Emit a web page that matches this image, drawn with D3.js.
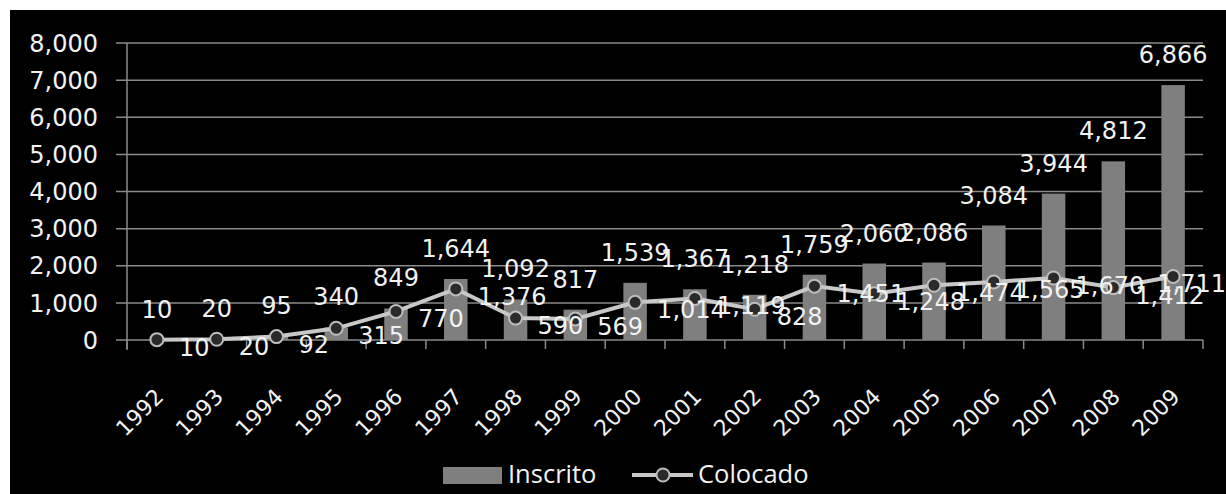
<!DOCTYPE html>
<html>
<head>
<meta charset="utf-8">
<script src="https://cdn.jsdelivr.net/npm/d3@7"></script>
<style>
  html, body { margin: 0; padding: 0; background: #fff; }
  svg { display: block; }
</style>
</head>
<body>
<svg id="chart" width="1226" height="494"></svg>
<script>
const years = ["1992","1993","1994","1995","1996","1997","1998","1999","2000","2001","2002","2003","2004","2005","2006","2007","2008","2009"];
const inscrito = [10,20,95,340,849,1644,1092,817,1539,1367,1218,1759,2060,2086,3084,3944,4812,6866];
const colocado = [10,20,92,315,770,1376,590,569,1014,1119,828,1451,1248,1474,1565,1670,1412,1711];
const yTicks = [0,1000,2000,3000,4000,5000,6000,7000,8000];
const seriesNames = ["Inscrito","Colocado"];

const W = 1226, H = 494;
const svg = d3.select("#chart");
const numFont = "'DejaVu Sans', sans-serif";
const legFont = "'Open Sans', Lato, sans-serif";
const txt = "#f2f2f2";

svg.append("rect").attr("x", 10).attr("y", 10).attr("width", W - 10).attr("height", H - 10).attr("fill", "#000");

const x = d3.scaleBand().domain(years).range([127, 1203]).paddingInner(0).paddingOuter(0);
const y = d3.scaleLinear().domain([0, 8000]).range([340, 43]);
const fmt = d3.format(",");

// gridlines
svg.append("g").selectAll("line").data(yTicks).join("line")
  .attr("x1", 116).attr("x2", 1203)
  .attr("y1", d => y(d)).attr("y2", d => y(d))
  .attr("stroke", "#8a8a8a").attr("stroke-width", 1.5);

// y axis line
svg.append("line").attr("x1", 127).attr("x2", 127).attr("y1", y(8000)).attr("y2", 350)
  .attr("stroke", "#8a8a8a").attr("stroke-width", 1.5);

// x ticks
svg.append("g").selectAll("line").data(years.concat(["end"])).join("line")
  .attr("x1", (d, i) => 127 + i * x.bandwidth()).attr("x2", (d, i) => 127 + i * x.bandwidth())
  .attr("y1", 340).attr("y2", 349)
  .attr("stroke", "#8a8a8a").attr("stroke-width", 1.5);

// y labels
svg.append("g").selectAll("text").data(yTicks).join("text")
  .attr("x", 98).attr("y", d => y(d)).attr("dy", "0.36em")
  .attr("text-anchor", "end").attr("font-family", numFont).attr("font-size", 24)
  .attr("fill", txt).text(d => fmt(d));

// x labels
svg.append("g").selectAll("text").data(years).join("text")
  .attr("transform", d => `translate(${x(d) + x.bandwidth() / 2 + 8},398) rotate(-45)`)
  .attr("text-anchor", "end").attr("font-family", numFont).attr("font-size", 22)
  .attr("fill", txt).text(d => d);

// bars
const bw = 23.5;
svg.append("g").selectAll("rect").data(inscrito).join("rect")
  .attr("x", (d, i) => x(years[i]) + x.bandwidth() / 2 - bw / 2)
  .attr("width", bw)
  .attr("y", d => y(d)).attr("height", d => y(0) - y(d))
  .attr("fill", "#7f7f7f");

// line
const cx = i => x(years[i]) + x.bandwidth() / 2;
const line = d3.line().x((d, i) => cx(i)).y(d => y(d));
svg.append("path").datum(colocado).attr("d", line)
  .attr("fill", "none").attr("stroke", "#c8c8c8").attr("stroke-width", 4);
svg.append("g").selectAll("circle").data(colocado).join("circle")
  .attr("cx", (d, i) => cx(i)).attr("cy", d => y(d)).attr("r", 6.5)
  .attr("fill", "#2a2a2a").attr("stroke", "#bdbdbd").attr("stroke-width", 2);

// bar labels
svg.append("g").selectAll("text").data(inscrito).join("text")
  .attr("x", (d, i) => cx(i)).attr("y", d => y(d) - 22)
  .attr("text-anchor", "middle").attr("font-family", numFont).attr("font-size", 24)
  .attr("fill", txt).text(d => fmt(d));

// line labels (to the right, kept inside the chart)
const lblG = svg.append("g");
colocado.forEach((d, i) => {
  const t = lblG.append("text")
    .attr("y", y(d) + 16)
    .attr("font-family", numFont).attr("font-size", 24)
    .attr("fill", txt).text(fmt(d));
  const w = t.node().getComputedTextLength();
  t.attr("x", Math.min(cx(i) + 22, W - w));
});

// legend
const lg = svg.append("g");
lg.append("rect").attr("x", 443).attr("y", 467).attr("width", 59).attr("height", 17).attr("fill", "#7f7f7f");
lg.append("text").attr("x", 508).attr("y", 483).attr("font-family", legFont).attr("font-size", 25.5)
  .attr("fill", txt).text(seriesNames[0]);
lg.append("line").attr("x1", 632).attr("x2", 693).attr("y1", 475).attr("y2", 475)
  .attr("stroke", "#c8c8c8").attr("stroke-width", 4);
lg.append("circle").attr("cx", 663).attr("cy", 475).attr("r", 6.5)
  .attr("fill", "#2a2a2a").attr("stroke", "#bdbdbd").attr("stroke-width", 2);
lg.append("text").attr("x", 698).attr("y", 483).attr("font-family", legFont).attr("font-size", 25.5)
  .attr("fill", txt).text(seriesNames[1]);
</script>
</body>
</html>
